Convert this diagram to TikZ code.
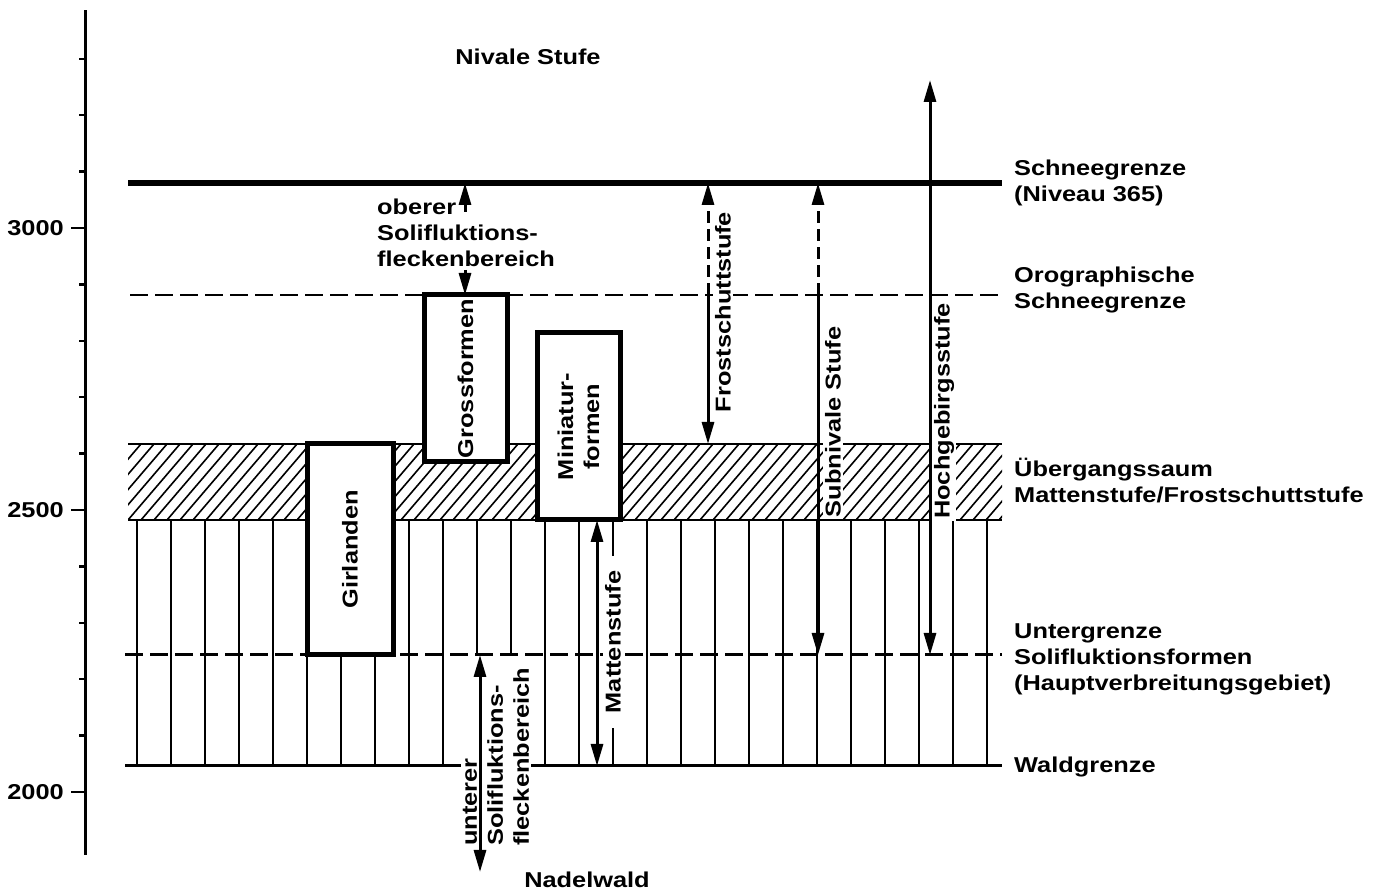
\documentclass[tikz,border=0pt]{standalone}
\usepackage{fontspec}
\setmainfont{Liberation Sans}[FakeStretch=1.18]
\usetikzlibrary{arrows.meta}

\begin{document}
\begin{tikzpicture}[x=1pt,y=1pt,
    txt/.style={font=\bfseries\fontsize{21.5}{26}\selectfont, inner sep=2pt},
    lbl/.style={txt, anchor=west, align=left},
    vtxt/.style={txt, rotate=90, fill=white},
    formbox/.style={txt, draw, line width=5pt, fill=white, rotate=90},
    pfeil/.style={line width=3pt, -{Triangle[length=22pt,width=12pt]}},
    doppelpfeil/.style={line width=3pt, {Triangle[length=22pt,width=12pt]}-{Triangle[length=22pt,width=12pt]}},
    levdash/.style={line width=2.6pt, dash pattern=on 18pt off 7pt},
    stufdash/.style={dash pattern=on 12pt off 6pt}]
  \useasboundingbox (0,0) rectangle (1378,893);

  % Hoehenachse
  \draw[line width=3pt] (85,38) -- (85,883);
  \foreach \h in {2000,2100,...,3300}
    \draw[line width=2.4pt] (85,{665+(\h-3000)*0.564}) -- ++(-6,0);
  \foreach \h in {2000,2500,3000}{
    \draw[line width=2.4pt] (85,{665+(\h-3000)*0.564}) -- ++(-14,0);
    \node[txt, anchor=east] (h\h) at (66,{665+(\h-3000)*0.564}) {\h};
  }

  % Uebergangssaum
  \begin{scope}
    \clip (128,373) rectangle (1002,449);
    \foreach \k in {-6,...,68}
      \draw[line width=1.6pt] (128+\k*13,373) -- ++(65,76);
  \end{scope}
  \draw[line width=2.2pt] (128,449) -- (1002,449);
  \draw[line width=2.2pt] (128,373) -- (1002,373);

  % Mattenstufe
  \foreach \i in {0,...,25}
    \draw[line width=2.2pt] (137+\i*34,373) -- (137+\i*34,238);
  \foreach \i in {0,...,9,12,13,...,25}
    \draw[line width=2.2pt] (137+\i*34,238) -- (137+\i*34,127);

  % Grenzen
  \draw[line width=5.5pt] (128,710) -- (1002,710);
  \draw[levdash] (130,598) -- (1002,598);
  \draw[levdash, line width=3pt] (125,238) -- (1002,238);
  \draw[line width=3pt] (125,127) -- (1002,127);

  % Formen
  \node[formbox, minimum width=211pt, minimum height=86pt] (girl) at (350,343.5) {Girlanden};
  \node[formbox, minimum width=167pt, minimum height=83pt] (gross) at (465.5,514.5) {Grossformen};
  \node[formbox, minimum width=187pt, minimum height=83pt, align=center] (mini) at (578.5,466.5) {Miniatur-\\formen};

  % Beschriftung
  \node[txt] (nival) at (528,836) {Nivale Stufe};
  \node[txt] (nadel) at (587,13) {Nadelwald};
  \node[lbl] (schnee) at (1012,710) {Schneegrenze\\(Niveau 365)};
  \node[lbl] (oro) at (1012,603) {Orographische\\Schneegrenze};
  \node[lbl] (saum) at (1012,412) {Übergangssaum\\Mattenstufe/Frostschuttstufe};
  \node[lbl] (unter) at (1012,234) {Untergrenze\\Solifluktionsformen\\(Hauptverbreitungsgebiet)};
  \node[lbl] (wald) at (1012,126) {Waldgrenze};
  \node[lbl] (ober) at (375,660) {oberer\\Solifluktions-\\fleckenbereich};
  \node[vtxt, align=left, anchor=west] (unten) at (496,45) {unterer\\Solifluktions-\\fleckenbereich};
  \node[vtxt, inner xsep=15pt] (matten) at (613,251) {Mattenstufe};
  \node[vtxt] (frost) at (723,581) {Frostschuttstufe};
  \node[vtxt] (subniv) at (833,471) {Subnivale Stufe};
  \node[vtxt] (hochgeb) at (944,482) {Hochgebirgsstufe};

  % Pfeile
  \draw[pfeil] (465,681) -- (465,710);
  \draw[pfeil] (465,623) -- (465,598);
  \draw[doppelpfeil] (480,238) -- (480,21);
  \draw[doppelpfeil] (597,373) -- (597,127);
  \draw[pfeil, stufdash] (708,598) -- (708,710);
  \draw[pfeil] (708,598) -- (708,449);
  \draw[pfeil, stufdash] (818,598) -- (818,710);
  \draw[pfeil] (818,598) -- (818,238);
  \draw[doppelpfeil] (930,238) -- (930,813);
\end{tikzpicture}
\end{document}
